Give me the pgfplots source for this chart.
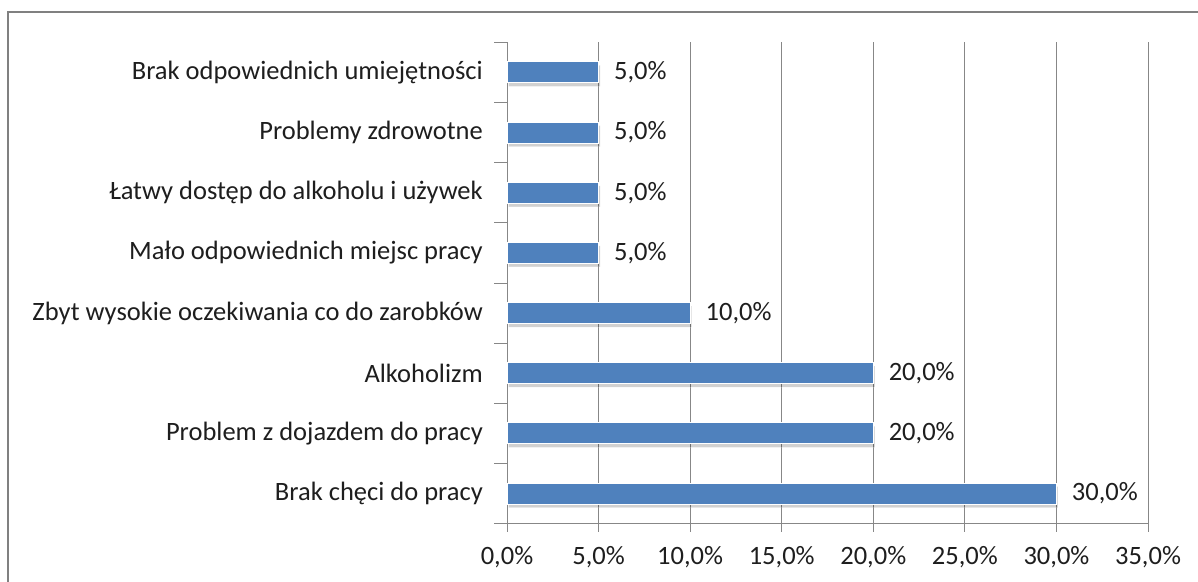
\documentclass[border=0pt]{standalone}
\usepackage{fontspec}
\setmainfont{Carlito}
\usepackage{pgfplots}
\pgfplotsset{compat=1.18}
\usetikzlibrary{shadows}
\definecolor{barblue}{HTML}{4F81BD}
\definecolor{gridgray}{HTML}{878787}
\definecolor{framegray}{HTML}{808080}
\definecolor{txt}{HTML}{1E1E1E}
\begin{document}
\begin{tikzpicture}[font=\fontsize{26.5}{31}\selectfont, text=txt]
\useasboundingbox (0,0) rectangle (1198pt,581pt);
\fill[white] (0,0) rectangle (1198pt,581pt);
\draw[framegray, line width=2pt] (8pt,-10pt) -- (8pt,569pt) -- (1210pt,569pt);
\begin{axis}[
  at={(507pt,57.4pt)}, anchor=south west,
  scale only axis, width=641pt, height=481.2pt,
  xbar, bar width=21pt,
  xmin=0, xmax=35, ymin=-0.5, ymax=7.5,
  clip=false,
  axis lines*=left,
  axis line style={gridgray, line width=1pt},
  xmajorgrids, grid style={gridgray, line width=1pt},
  xtick={0,5,...,35},
  xticklabels={{0,0\%},{5,0\%},{10,0\%},{15,0\%},{20,0\%},{25,0\%},{30,0\%},{35,0\%}},
  x tick style={gridgray, line width=1pt},
  tick align=outside, major tick length=8pt,
  xticklabel style={yshift=-11pt, font=\fontsize{26.5}{31}\selectfont, text=txt},
  ytick={0,...,7},
  yticklabels={Brak chęci do pracy, Problem z dojazdem do pracy, Alkoholizm, Zbyt wysokie oczekiwania co do zarobków, Mało odpowiednich miejsc pracy, Łatwy dostęp do alkoholu i używek, Problemy zdrowotne, Brak odpowiednich umiejętności},
  y tick style={draw=none},
  yticklabel style={inner sep=0pt, xshift=-16pt, font=\fontsize{26.5}{31}\selectfont, text=txt},
  extra y ticks={-0.5,0.5,1.5,2.5,3.5,4.5,5.5,6.5,7.5},
  extra y tick labels={},
  extra y tick style={y tick style={draw=gridgray, line width=1pt}, major tick length=13pt, tick align=outside},
  point meta=x,
  nodes near coords={\pgfmathprintnumber[use comma,fixed,fixed zerofill,precision=1,assume math mode=true]{\pgfplotspointmeta}\%},
  nodes near coords style={anchor=west, inner sep=0pt, xshift=15pt, font=\fontsize{26.5}{31}\selectfont, text=txt},
]
\addplot[fill=barblue, draw=white, line width=1pt,
  drop shadow={shadow xshift=1.5pt, shadow yshift=-3.5pt, fill=black, opacity=0.18}]
  coordinates {(30,0) (20,1) (20,2) (10,3) (5,4) (5,5) (5,6) (5,7)};
\end{axis}
\end{tikzpicture}
\end{document}
